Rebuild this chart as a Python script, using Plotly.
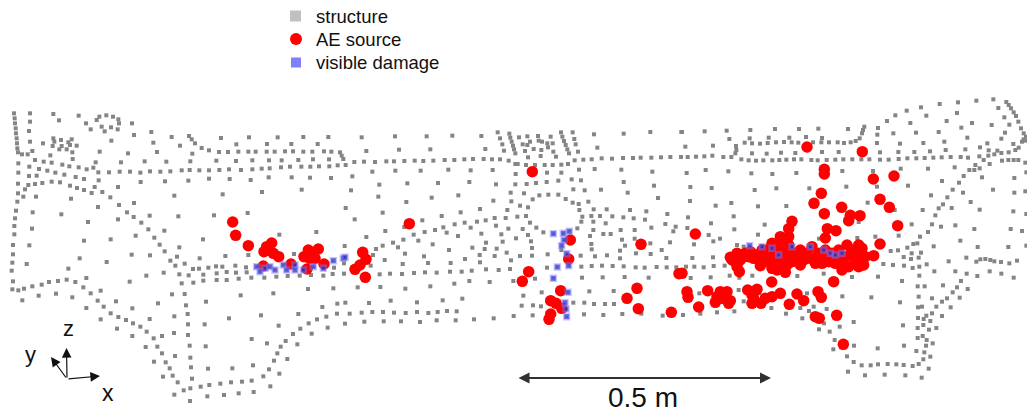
import plotly.graph_objects as go

# Values, in units of 1/3 image pixel per region
REGION_LEFT = (0, 90)
REGION_MID = (340, 90)
REGION_RIGHT = (682, 90)

structure_left = [(42,70),(44,85),(45,100),(47,115),(48,130),(50,145),(51,160),(52,175),(54,187),(66,193),(90,70),(90,95),(87,123),(90,155),(97,183),(105,210),(55,220),(83,193),
(160,72),(177,91),(236,77),(258,100),(272,118),(290,90),(298,80),(319,76),(339,80),(355,88),(357,100),(353,118),(314,124),(305,110),(333,112),(396,100),(402,135),(454,126),(460,158),(471,186),(515,141),(540,167),(567,138),(575,148),(585,160),(605,174),(627,181),(663,144),(709,163),(747,142),(801,162),(833,142),(874,162),(910,141),(953,162),(985,141),
(129,160),(160,145),(163,155),(158,168),(183,150),(185,168),(178,178),(205,157),(215,148),(210,165),(230,167),(200,178),(217,187),(218,207),(151,196),(334,152),(299,185),(287,217),(384,190),(363,217),(434,214),(499,215),(577,191),(571,214),
(657,186),(684,186),(715,185),(745,185),(767,185),(800,185),(824,185),(855,184),(879,184),(910,185),(937,185),(972,184),(994,185),
(649,212),(708,213),(757,211),(807,211),(845,211),(895,210),(939,208),(987,208),
(55,248),(88,230),(117,237),(142,242),(166,248),(187,224),(208,229),(193,254),(236,232),(260,238),(280,233),(295,247),(327,247),(359,245),(390,245),(421,248),(450,244),(481,245),(511,244),(545,241),(569,240),(598,241),(627,241),(658,240),(687,238),(723,240),(757,238),(785,236),(809,235),(843,232),(870,230),(904,230),(931,230),(957,229),(988,229),(1013,226),
(131,215),(155,218),(87,258),(110,257),(54,281),(54,310),(52,335),(48,362),(45,385),(43,408),(43,433),(39,465),(39,493),(37,518),(35,542),(39,574),(37,598),(55,601),(72,596),(97,589),(125,584),(147,576),(174,573),(200,569),(226,576),(259,564),(250,592),(272,610),(302,602),(293,632),(311,650),(332,670),(355,681),(378,690),(399,700),(421,710),(440,725),(461,745),(472,770),(486,790),(497,817),(509,835),(518,857),(533,877),(551,901),(571,895),(602,890),(628,885),(661,881),(693,877),(726,875),(755,872),(790,859),(807,838),(822,812),(832,790),(842,770),(857,753),(879,732),(901,716),(926,700),(951,688),(979,680),(1011,671),
(105,282),(127,279),(155,275),(180,277),(210,287),(231,294),(252,300),(275,309),(284,291),(307,306),(331,322),(357,345),(381,367),(401,381),(424,398),(445,418),(463,443),(479,464),(494,484),(511,512),(526,527),(538,553),(545,580),(566,556),(554,521),(579,537),(580,578),(597,536),(610,554),(610,572),(625,533),(650,550),(650,570),(648,529),(667,530),(680,546),(680,570),(706,527),(708,548),(716,566),(738,532),(740,547),(754,563),(793,563),(829,560),(863,558),(899,557),(933,555),(970,557),(1002,533),(998,552),
(75,298),(85,285),(70,320),(108,320),(213,326),(354,291),(296,271),(227,261),(252,267),(523,317),(668,313),(786,306),(905,299),(565,272),(495,274),(422,276),(627,266),(689,267),(752,270),(806,262),(875,262),(930,263),(993,264),
(294,351),(402,339),(184,373),(98,367),(96,416),(88,466),(80,522),(205,536),(239,505),(252,452),(264,396),(354,388),(332,448),(320,516),(407,437),(395,494),(449,377),(493,422),(450,496),(439,557),(491,548),(389,575),(535,379),(538,472),(531,500),(599,505),(609,448),(642,376),(676,498),(743,369),(745,495),(838,434),(882,492),(949,426),
(516,613),(554,612),(474,640),(558,646),(563,672),(523,679),(449,687),(564,703),(522,729),(564,735),(486,738),(569,767),(617,769),(525,798),(571,803),(462,815),(437,771),(397,738),(351,716),(302,688),(259,654),(348,634),(397,655),(168,611),(116,617),(67,631),(217,622),(618,635),(614,703),(687,685),(722,616),(820,610),(924,597),(1000,595),(783,676),(836,707),(755,747),(801,760),(892,763),(862,807),(935,731),(983,713),(895,672),(967,651),(1012,641),(573,832),(624,836),(697,835),(759,826),(838,851),(811,889),(576,866),(489,860),(523,914),(570,933),(622,919),(672,915),(716,910),(761,906)]

structure_mid = [(65,142),(165,139),(260,139),(337,137),(424,138),(473,127),(508,131),(511,143),(515,155),(519,167),(522,178),(526,190),(480,145),(487,163),(492,182),(537,142),(562,139),(594,138),(632,140),(663,127),(667,140),(672,153),(677,165),(682,178),(687,190),(698,127),(703,147),(707,163),(714,185),(762,133),(851,131),(931,126),(1024,126),(772,173),(79,183),(177,179),(271,178),(436,177),(548,163),(570,155),(562,165),(555,183),(581,177),(604,180),(596,152),(606,155),(622,160),(638,160),(624,172),(640,185),(648,200),(602,198),(564,202),(526,222),
(0,187),(5,197),(10,207),(17,225),
(43,216),(72,215),(105,216),(139,214),(162,214),(193,213),(224,212),(250,213),(280,212),(314,210),(343,210),(373,208),(399,207),(431,207),(456,208),(480,208),(506,212),(533,222),(558,225),(585,225),(614,225),(638,225),(664,224),(684,222),(704,211),(730,209),(755,208),(785,205),(816,206),(849,204),(879,204),(902,203),(934,203),(963,202),(991,201),(1023,201),
(97,245),(166,242),(242,242),(325,239),(392,241),(458,240),(527,252),(621,248),(664,248),(717,239),(764,237),(844,239),(937,245),
(37,259),(118,284),(202,280),(294,279),(388,276),(468,283),(526,283),(560,282),(588,279),(620,276),(655,272),(695,268),(723,271),(851,276),(942,287),(33,301),(115,320),(199,336),(275,323),(355,316),(460,332),(512,308),(514,334),(552,310),(578,328),(598,316),(625,314),(655,314),(677,327),(698,338),(716,342),(745,335),(700,298),(734,301),(783,299),(863,308),(954,324),(17,354),(128,368),(44,388),(420,357),(362,367),(305,378),(247,391),(540,347),(502,360),(564,352),(718,360),(761,358),(800,358),(870,360),(919,364),(982,372),
(532,380),(558,378),(570,398),(589,413),(610,427),(727,380),(724,395),(712,415),
(497,384),(464,384),(437,391),(411,395),(374,398),(344,403),(392,413),(310,412),(285,420),(254,426),(221,434),(193,411),(320,428),(354,438),(424,431),(468,407),(505,416),(548,417),(484,433),(528,445),(564,435),(573,454),(576,474),(488,455),(438,458),(397,473),(327,480),(278,463),(235,452),(190,449),(159,458),(174,472),(128,467),(108,477),(136,423),(79,441),(14,468),(99,495),(195,491),(252,499),(264,519),(188,522),(134,510),(332,519),(375,507),(419,495),(464,498),(434,477),(470,476),(500,488),(513,511),(540,498),(576,497),(623,493),(664,480),(722,497),(765,499),(801,496),(840,482),(855,467),(812,432),(790,432),(754,462),(755,478),(750,438),(760,420),(760,395),(754,378),(780,378),(817,379),(850,382),(881,385),(915,389),(976,402),(1007,410),(934,413),(1000,424),(884,420),(842,420),(797,400),(846,449),(884,446),(931,460),(990,457),(965,480),(979,504),(932,492),(888,490),(840,505),
(420,517),(476,540),(510,537),(438,538),(395,542),(365,545),(330,545),(290,548),(255,547),(222,549),(186,552),(150,551),(119,553),(12,520),(12,551),(92,527),(53,592),(121,591),(196,596),(271,589),(343,581),(388,573),(449,576),(520,573),(585,566),(621,533),(724,530),(755,528),(786,527),(818,528),(851,529),(887,532),(914,533),(950,531),(980,532),(1009,532),(726,563),(788,562),(854,561),(926,563),(605,607),(550,617),(545,647),(579,646),(603,649),(700,638),(733,638),(762,642),(795,642),(822,642),(748,604),(821,603),(732,673),(790,675),(847,672),(904,671),(968,677),
(578,676),(521,678),(461,685),(402,688),(347,691),(290,691),(350,664),(321,663),(293,666),(265,669),(231,666),(197,669),(162,668),(129,666),(97,666),(65,668),(29,671),(15,701),(73,695),(131,694),(183,694),(240,696),(367,626),(308,631),(231,637),(152,632),(87,639),(16,638)]

structure_right = [(0,126),(68,124),(134,122),(205,120),(279,117),(351,117),(409,116),(498,117),(547,110),(543,120),(540,130),(533,145),(521,153),(588,114),(586,134),(615,93),(640,76),(674,62),(717,52),(773,42),(828,37),(883,32),(934,28),(973,36),(980,45),(987,55),(995,67),(1002,78),(1009,95),(1017,115),(1025,130),(1032,140),(949,54),(967,82),(982,104),(929,105),(825,69),(733,77),(685,99),(794,93),(870,99),(838,113),(702,128),(770,126),(634,130),(856,143),(969,128),(1025,148),(958,146),
(142,147),(203,145),(260,143),(322,143),(372,141),(420,144),(93,167),(10,170),
(188,158),(210,160),(234,161),(257,159),(282,157),(306,156),(329,157),(349,158),(393,157),(418,157),(441,157),(467,157),(486,159),(506,157),(162,168),(163,180),(160,190),
(585,159),(654,161),(724,159),(787,155),(850,178),(791,180),(744,184),(697,186),(649,186),(594,187),(210,190),(254,191),(297,188),(340,189),(420,186),(470,186),
(17,201),(42,200),(67,199),(91,197),(124,201),(148,201),(178,208),(200,211),(222,212),(244,211),(271,211),(292,210),(313,209),(336,208),(358,208),(388,210),(407,211),(434,210),(460,209),(484,208),(511,208),(538,208),(562,208),(594,209),(620,209),(650,207),(676,205),(703,205),(728,204),(754,203),(779,202),(806,201),(836,201),(858,203),(892,199),(919,197),(937,193),(958,189),(980,187),(1000,180),(1010,173),(1020,155),(1031,152),(994,162),(946,182),(920,181),(894,172),(916,160),(960,212),(979,210),(995,210),(1009,210),(1030,218),(905,210),(923,222),(880,225),(893,235),(877,240),(862,240),(845,258),(831,278),(818,232),(738,236),(656,236),(573,243),(481,243),(343,249),(271,252),(208,250),(139,244),(71,240),(14,249),(900,262),(780,273),(678,287),(493,290),(585,290),(382,295),(283,295),(218,300),(89,294),(25,291),(997,264),(1033,247),(812,299),(933,299),(843,308),(1030,304),(997,308),(747,316),(796,322),(783,343),(770,355),(760,376),(750,403),(738,426),(722,360),(893,359),(866,336),(809,354),(994,364),(1033,372),(820,406),(777,410),(689,403),(877,417),(986,417),(1020,423),(835,452),(755,469),(714,440),(706,460),(694,462),(676,473),(650,437),(557,338),(638,360),(530,396),(580,440),(526,444),(411,446),(248,404),(228,349),(313,348),(148,339),(101,347),(24,333),(155,379),(18,382),(87,400),(157,418),(16,414),(80,435),(114,446),(94,454),(228,434),(36,463),(165,465),
(626,483),(648,481),(665,501),(689,490),(717,488),(710,503),(687,507),(633,525),(604,522),(666,527),(692,534),(712,530),(734,523),(757,544),(712,557),(707,589),(728,589),(783,586),(800,514),(820,544),(837,573),(854,551),(883,515),(895,508),(910,507),(925,510),(937,514),(957,516),(982,520),(1005,512),(886,558),(923,544),(958,551),(995,563),(853,503),(887,471),(979,471),(1033,467),(825,592),(812,607),(795,625),(780,635),(763,650),(750,670),(745,693),(733,677),(725,687),(708,684),(720,650),(708,652),(710,620),(750,625),(857,597),(833,623),(806,652),(780,678),(763,714),(741,719),(707,714),(724,705),(722,738),(707,744),(734,750),(752,760),(732,767),(703,783),(727,787),(745,800),(724,808),(710,822),(692,828),(665,825),(643,823),(617,822),(588,823),(566,826),(539,826),(515,816),(495,799),(478,772),(458,750),(443,725),(426,700),(411,718),(381,663),(361,685),(434,657),(473,710),(515,696),(454,778),(498,845),(549,856),(608,854),(670,856),(719,863),(740,836),(516,767),(587,775),(666,767),(663,706),(654,637),(568,622),(660,573),(588,560),(510,561),(481,619),(346,558),(425,551),(211,557),(143,557),(86,562),(26,564),(12,530),(37,530),(65,532),(95,528),(128,527),(152,522),(170,600),(185,634),(212,605),(232,610),(268,654),(312,671),(157,664),(105,667),(55,671),(3,675),(355,654),(375,610),(395,650),(345,610),(52,610),(172,563),(31,504),(93,502),(185,470)]

source_left = [(698,396),(707,436),(745,467),(815,459),(800,470),(792,485),(820,490),(836,500),(790,528),(873,522),(921,537),(925,480),(955,477),(935,490),(912,500),(945,505),(972,522),(930,505)]
source_mid = [(577,245),(208,401),(68,487),(78,508),(60,525),(45,538),(76,562),(691,450),(686,507),(903,463),(566,545),(547,574),(1017,551),(891,595),(861,625),(895,656),(994,667),(662,602),(632,632),(648,640),(665,655),(632,672),(627,688)]
source_right = [(375,171),(541,185),(427,238),(427,252),(574,267),(636,258),(418,310),(396,340),(594,328),(622,352),(479,352),(427,371),(505,376),(534,377),(500,392),(647,407),(330,394),(320,416),(436,416),(462,422),(430,444),(40,432),(295,440),(270,460),(320,440),(594,462),(455,575),(269,576),
(145,502),(165,490),(190,490),(200,500),(220,495),(240,480),(245,510),(265,495),(280,470),(290,500),(310,480),(320,465),(330,495),(300,525),(285,540),(310,547),(330,515),(355,525),(165,530),(172,545),(235,527),(215,505),(375,490),(390,470),(400,510),(410,490),(430,480),(440,515),(460,505),(470,480),(495,465),(530,465),(540,475),(505,495),(520,510),(545,525),(530,530),(500,530),(480,540),(575,497),(550,500),(260,515),(355,480),(340,490),(400,520),(420,520),(185,500),(150,510),(275,520),(205,485),(300,450),
(175,510),(230,510),(255,480),(270,505),(300,490),(320,510),(345,505),(365,510),(385,505),(420,495),(450,490),(480,510),(490,500),(510,480),(525,490),(440,495),(460,520),(300,470),(290,465),(315,525),(270,535),
(0,550),(15,605),(18,622),(50,651),(77,602),(115,605),(135,605),(105,620),(100,637),(120,625),(145,632),(140,640),(197,600),(225,598),(210,615),(215,625),(210,640),(237,640),(250,625),(270,620),(295,610),(345,612),(365,632),(322,643),(408,605),(418,622),(400,680),(412,685),(464,676),(484,763)]

damage_left = [(770,530),(780,545),(795,535),(810,530),(825,540),(850,525),(860,540),(885,525),(885,540),(910,540),(940,530),(970,535),(1000,512),(1030,505)]
damage_mid = [(15,502),(640,431),(670,430),(688,424),(672,450),(665,467),(680,491),(686,527),(652,531),(640,565),(684,607),(675,638),(678,657),(680,680)]
damage_right = [(203,467),(240,470),(270,475),(290,495),(330,470),(385,470),(425,480),(445,490),(460,495),(480,490)]

legend_labels = ["structure", "AE source", "visible damage"]


def to_xy(region, pts):
    return [region[0] + p[0] / 3 for p in pts], [region[1] + p[1] / 3 for p in pts]


def merge(left, mid, right):
    xs, ys = [], []
    for reg, pts in ((REGION_LEFT, left), (REGION_MID, mid), (REGION_RIGHT, right)):
        a, b = to_xy(reg, pts)
        xs += a
        ys += b
    return xs, ys


sx, sy = merge(structure_left, structure_mid, structure_right)
rx, ry = merge(source_left, source_mid, source_right)
dx, dy = merge(damage_left, damage_mid, damage_right)

fig = go.Figure()
fig.add_trace(go.Scatter(x=sx, y=sy, mode="markers", name="structure",
                         marker=dict(symbol="square", size=4, color="#858585", line_width=0)))
fig.add_trace(go.Scatter(x=rx, y=ry, mode="markers", name="AE source",
                         marker=dict(symbol="circle", size=11.5, color="#ff0000", line_width=0, opacity=1)))
fig.add_trace(go.Scatter(x=dx, y=dy, mode="markers", name="visible damage",
                         marker=dict(symbol="square", size=5, color="rgba(45,45,185,0.8)",
                                     line=dict(color="rgba(128,128,255,0.45)", width=2.5))))

# Legend drawn at its place in the picture, with wide row spacing
key_x = [295.5, 296, 296]
key_y = [16, 39, 62.5]
key_sym = ["square", "circle", "square"]
key_col = ["#c0c0c0", "#ff0000", "#8080ff"]
key_size = [11, 12, 10]
fig.add_trace(go.Scatter(x=key_x, y=key_y, mode="markers",
                         marker=dict(symbol=key_sym, color=key_col, size=key_size, line_width=0, opacity=1),
                         hoverinfo="skip"))

ann = []
for lab, y in zip(legend_labels, key_y):
    ann.append(dict(x=317, y=y, text=lab, showarrow=False, xanchor="left", yanchor="middle", xshift=-3,
                    font=dict(family="Liberation Sans", size=18.5, color="#111111")))

for txt, x, y, size in [("z", 68, 328, 22), ("y", 30, 354, 22), ("x", 108, 393, 23), ("0.5 m", 643, 397.5, 28)]:
    ann.append(dict(x=x, y=y, text=txt, showarrow=False, xanchor="center", yanchor="middle",
                    font=dict(family="Liberation Sans", size=size, color="#111111")))

# Axis triad and scale bar
for tip, tail, col, w in [((66.5, 348), (67, 379), "#111111", 1.2),
                          ((100, 376), (67, 379), "#111111", 1.2),
                          ((51, 357), (67, 379), "#111111", 1.2)]:
    ann.append(dict(x=tip[0], y=tip[1], ax=tail[0], ay=tail[1], xref="x", yref="y", axref="x", ayref="y",
                    text="", showarrow=True, arrowhead=2, arrowsize=1.6, arrowwidth=w, arrowcolor=col))
ann.append(dict(x=771, y=378, ax=517, ay=378, xref="x", yref="y", axref="x", ayref="y", text="",
                showarrow=True, arrowhead=2, startarrowhead=2, arrowside="end+start",
                arrowsize=1.1, startarrowsize=1.1, arrowwidth=2, arrowcolor="#303030"))

fig.update_layout(width=1027, height=414, margin=dict(l=0, r=0, t=0, b=0),
                  paper_bgcolor="white", plot_bgcolor="white", showlegend=False,
                  annotations=ann,
                  xaxis=dict(range=[0, 1027], visible=False, fixedrange=True),
                  yaxis=dict(range=[414, 0], visible=False, fixedrange=True))
fig.write_html("out.html", config=dict(displayModeBar=False),
               post_script="document.body.style.margin='0';document.body.style.overflow='hidden';")
